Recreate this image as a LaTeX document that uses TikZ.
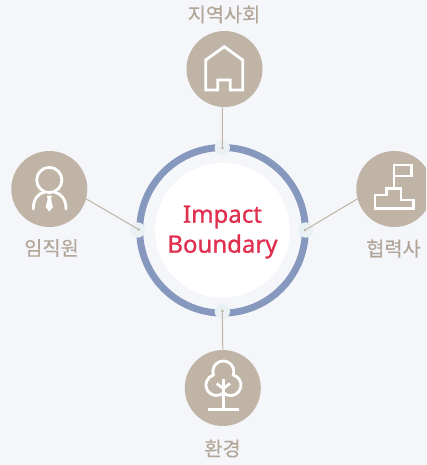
\documentclass[tikz,border=0pt]{standalone}
\usepackage{fontspec}
\setmainfont{Noto Sans}[FakeBold=1]
\newfontfamily\krfont[FakeBold=0.25]{Noto Sans CJK KR}
\definecolor{pagebg}{HTML}{F4F6FA}
\definecolor{tan}{HTML}{C0B4A7}
\definecolor{labelgray}{HTML}{B3A698}
\definecolor{ringblue}{HTML}{8698BE}
\definecolor{impactred}{HTML}{E0304F}
\definecolor{portbg}{HTML}{E9F1F4}
\tikzset{
  topic/.style={circle,fill=tan,minimum size=57pt,inner sep=0pt},
  portdisc/.style={circle,fill=portbg,minimum size=11.5pt,inner sep=0pt},
  pin/.style={circle,fill=tan,minimum size=2.2pt,inner sep=0pt},
  toplabel/.style={font=\krfont\fontsize{14.8pt}{17pt}\selectfont,text=labelgray,inner sep=0pt},
  link/.style={draw=tan,line width=0.75pt},
  icon/.style={draw=white,line width=2.1pt,line join=miter}
}
\begin{document}
\begin{tikzpicture}[x=0.75pt,y=-0.75pt]
  \useasboundingbox (0,0) rectangle (426,465);
  \clip (0,0) rectangle (426,465);
  \fill[pagebg] (0,0) rectangle (426,465);

  % ring and centre
  \draw[ringblue,line width=5.2pt] (222.5,230.3) circle (82.8);
  \node[circle,fill=white,minimum size=101pt,inner sep=0pt] (centre) at (222.5,230.3) {};
  \node[align=center,text=impactred,inner sep=0pt,
        font=\fontsize{18pt}{22.5pt}\selectfont] (centretext) at (222.5,232) {Impact\\Boundary};

  \node[portdisc] (porttop) at (222.3,147.7) {};
  \node[portdisc] (portleft) at (137.5,230) {};
  \node[portdisc] (portright) at (305.7,230) {};
  \node[portdisc] (portbottom) at (222.3,311.5) {};
  \node[pin] (pintop) at (222.3,148) {};
  \node[pin] (pinleft) at (138.7,229.5) {};
  \node[pin] (pinright) at (305.2,230) {};
  \node[pin] (pinbottom) at (222.3,311) {};

  % topic circles
  \node[topic] (community) at (224.5,69) {};
  \node[topic] (staff) at (49.3,189) {};
  \node[topic] (partner) at (394.3,189) {};
  \node[topic] (environment) at (222.8,388) {};

  \draw[link] (community.south) ++(-2,0) -- (pintop);
  \draw[link] (staff.-15) -- (pinleft);
  \draw[link] (partner.195) -- (pinright);
  \draw[link] (environment.north) -- (pinbottom);

  \node[toplabel] (communitytext) at (224,14.5) {지역사회};
  \node[toplabel] (stafftext) at (51.5,248) {임직원};
  \node[toplabel] (partnertext) at (393.5,248.5) {협력사};
  \node[toplabel] (environmenttext) at (222.5,448.5) {환경};

  % house
  \draw[icon] (224.3,46.7) -- (242.7,60) -- (242.7,90) -- (230.3,90) -- (230.3,80)
    -- (217.7,80) -- (217.7,90) -- (205.7,90) -- (205.7,60) -- cycle;

  % person
  \draw[icon] (49.3,180) circle (12.6);
  \draw[icon,line cap=round] (33.3,209) .. controls (33.3,199) and (38,193.5) .. (44,192.3);
  \draw[icon,line cap=round] (66,209) .. controls (66,199) and (61,193.5) .. (54.8,192.3);
  \fill[white] (46.7,195.5) -- (52,195.5) -- (51,199) -- (53,207) -- (49.3,211.5)
    -- (45.7,207) -- (47.7,199) -- cycle;

  % flag
  \draw[icon] (394,176) -- (394,165) -- (411.7,165) -- (411.7,176) -- cycle;
  \draw[icon] (394,176) -- (394,188.3);
  \draw[icon] (375,195) -- (386.7,195) -- (386.7,188.3) -- (401,188.3)
    -- (401,200) -- (413.3,200) -- (413.3,208.3) -- (375,208.3) -- cycle;

  % tree
  \draw[icon] (223.3,393) arc (49.6:253:10.5) arc (160.5:379.5:10.5)
    arc (-74.9:130.4:10.5);
  \draw[icon] (223.3,379) -- (223.3,409.3);
  \draw[icon] (208.3,409.3) -- (239,409.3);
  \draw[icon] (216.7,383.5) -- (223.3,388.5) -- (230,383.5);
\end{tikzpicture}
\end{document}
